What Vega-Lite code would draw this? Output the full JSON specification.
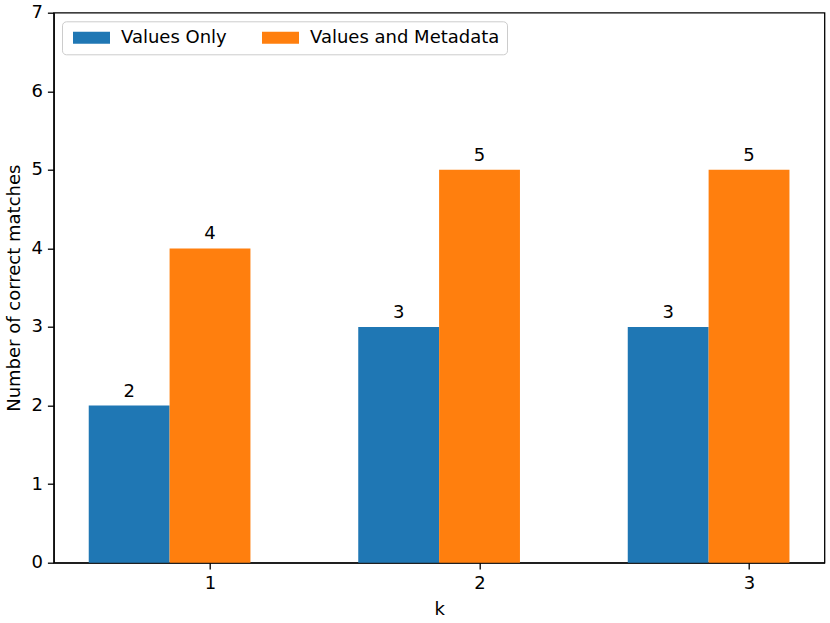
{
  "$schema": "https://vega.github.io/schema/vega-lite/v6.json",
  "width": 770.8,
  "height": 550,
  "autosize": {"type": "none"},
  "padding": {"left": 53.7, "top": 12.7, "right": 5.5, "bottom": 60.3},
  "background": "white",
  "config": {
    "font": "DejaVu Sans",
    "view": {"stroke": "black", "strokeWidth": 1.3},
    "axis": {
      "labelFont": "DejaVu Sans",
      "titleFont": "DejaVu Sans",
      "labelFontSize": 18,
      "titleFontSize": 18,
      "titleFontWeight": "normal",
      "labelColor": "black",
      "titleColor": "black",
      "domainColor": "black",
      "domainWidth": 1.3,
      "tickColor": "black",
      "tickWidth": 1.3,
      "tickSize": 6.3,
      "labelPadding": 5,
      "grid": false
    },
    "legend": {
      "labelFont": "DejaVu Sans",
      "labelFontSize": 18,
      "labelColor": "black",
      "labelLimit": 400
    }
  },
  "data": {
    "values": [
      {"k": 1, "series": "Values Only", "value": 2},
      {"k": 1, "series": "Values and Metadata", "value": 4},
      {"k": 2, "series": "Values Only", "value": 3},
      {"k": 2, "series": "Values and Metadata", "value": 5},
      {"k": 3, "series": "Values Only", "value": 3},
      {"k": 3, "series": "Values and Metadata", "value": 5}
    ]
  },
  "transform": [
    {"calculate": "datum.series === 'Values Only' ? datum.k - 0.45 : datum.k - 0.15", "as": "x0"},
    {"calculate": "datum.x0 + 0.3", "as": "x1"},
    {"calculate": "datum.x0 + 0.15", "as": "xc"}
  ],
  "layer": [
    {
      "mark": {"type": "bar", "opacity": 1},
      "encoding": {
        "x": {
          "field": "x0", "type": "quantitative",
          "scale": {"domain": [0.42, 3.28], "nice": false, "zero": false},
          "axis": {"values": [1, 2, 3], "format": "d", "title": "k", "titleBaseline": "alphabetic", "titleY": 51.3}
        },
        "x2": {"field": "x1"},
        "y": {
          "field": "value", "type": "quantitative",
          "scale": {"domain": [0, 7], "nice": false},
          "axis": {"values": [0, 1, 2, 3, 4, 5, 6, 7], "format": "d", "title": "Number of correct matches", "titleBaseline": "alphabetic", "titleAngle": -90, "titleX": -34.2, "titleAlign": "center"}
        },
        "y2": {"datum": 0},
        "color": {
          "field": "series", "type": "nominal",
          "scale": {"domain": ["Values Only", "Values and Metadata"], "range": ["#1f77b4", "#ff7f0e"]},
          "legend": {
            "title": null,
            "orient": "none",
            "legendX": 8.3,
            "legendY": 8.6,
            "direction": "horizontal",
            "columns": 2,
            "symbolType": "M-3.083,-1H3.083V1H-3.083Z",
            "symbolSize": 144,
            "symbolStrokeWidth": 0,
            "symbolOpacity": 1,
            "symbolOffset": 13,
            "labelOffset": 20.5,
            "columnPadding": 31,
            "padding": 7.5,
            "fillColor": "white",
            "strokeColor": "#cccccc",
            "cornerRadius": 4
          }
        }
      }
    },
    {
      "mark": {"type": "text", "baseline": "bottom", "dy": -5, "fontSize": 18, "color": "black", "font": "DejaVu Sans"},
      "encoding": {
        "x": {"field": "xc", "type": "quantitative"},
        "y": {"field": "value", "type": "quantitative"},
        "text": {"field": "value", "type": "quantitative"}
      }
    }
  ]
}
